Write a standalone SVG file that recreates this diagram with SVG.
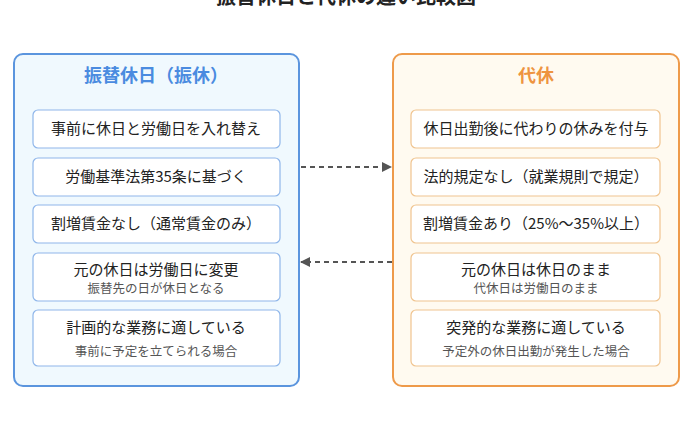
<svg xmlns="http://www.w3.org/2000/svg" width="692" height="434" viewBox="0 0 692 434">
<style>
text{font-family:"Noto Sans CJK JP","Noto Sans",sans-serif;text-anchor:middle}
.t{font-size:15px;fill:#222}
.s{font-size:12.5px;fill:#555}
.lb{fill:#fff;stroke:#8fb6ea;stroke-width:1.2}
.rb{fill:#fff;stroke:#f0c48f;stroke-width:1.2}
.c{stroke:#555;stroke-width:2;stroke-dasharray:5,4;fill:none}
</style>
<defs><marker id="a" viewBox="0 0 10 10" refX="9" refY="5" markerWidth="5" markerHeight="5" orient="auto"><path d="M0,0L10,5L0,10z" fill="#555"/></marker></defs>
<rect width="692" height="434" fill="#fff"/>
<text x="346" y="4" font-size="20" font-weight="bold" fill="#222">振替休日と代休の違い比較図</text>
<g id="left">
<rect x="14" y="54" width="285" height="332" rx="9" fill="#f0f9fe" stroke="#5b95de" stroke-width="2"/>
<text x="156" y="82" font-size="18" font-weight="bold" fill="#4a8be0">振替休日（振休）</text>
</g>
<g id="right">
<rect x="393" y="54" width="286" height="332" rx="9" fill="#fffaf0" stroke="#ee9a4a" stroke-width="2"/>
<text x="536" y="82" font-size="18" font-weight="bold" fill="#ee9440">代休</text>
</g>
<g id="l1"><rect class="lb" x="33" y="110" width="247" height="38" rx="5"/><text class="t" x="156" y="134">事前に休日と労働日を入れ替え</text></g>
<g id="l2"><rect class="lb" x="33" y="158" width="247" height="38" rx="5"/><text class="t" x="156" y="182">労働基準法第35条に基づく</text></g>
<g id="l3"><rect class="lb" x="33" y="205" width="247" height="38" rx="5"/><text class="t" x="156" y="229">割増賃金なし（通常賃金のみ）</text></g>
<g id="l4"><rect class="lb" x="33" y="253" width="247" height="48" rx="5"/><text class="t" x="156" y="275">元の休日は労働日に変更</text><text class="s" x="156" y="293">振替先の日が休日となる</text></g>
<g id="l5"><rect class="lb" x="33" y="310" width="247" height="56" rx="5"/><text class="t" x="156" y="333">計画的な業務に適している</text><text class="s" x="156" y="356">事前に予定を立てられる場合</text></g>
<g id="r1"><rect class="rb" x="411" y="110" width="249" height="38" rx="5"/><text class="t" x="536" y="134">休日出勤後に代わりの休みを付与</text></g>
<g id="r2"><rect class="rb" x="411" y="158" width="249" height="38" rx="5"/><text class="t" x="536" y="182">法的規定なし（就業規則で規定）</text></g>
<g id="r3"><rect class="rb" x="411" y="205" width="249" height="38" rx="5"/><text class="t" x="536" y="229">割増賃金あり（25%〜35%以上）</text></g>
<g id="r4"><rect class="rb" x="411" y="253" width="249" height="48" rx="5"/><text class="t" x="536" y="275">元の休日は休日のまま</text><text class="s" x="536" y="293">代休日は労働日のまま</text></g>
<g id="r5"><rect class="rb" x="411" y="310" width="249" height="56" rx="5"/><text class="t" x="536" y="333">突発的な業務に適している</text><text class="s" x="536" y="356">予定外の休日出勤が発生した場合</text></g>
<g id="connectors">
<path class="c" d="M301,167H391" marker-end="url(#a)"/>
<path class="c" d="M392,262H301" marker-end="url(#a)"/>
</g>
</svg>
